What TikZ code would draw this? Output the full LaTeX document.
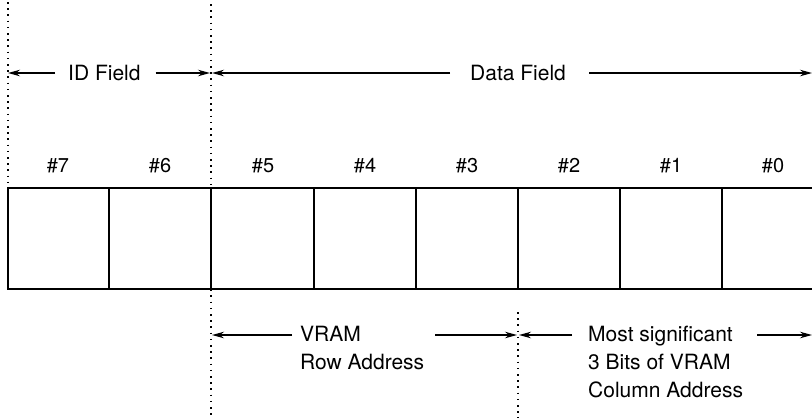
\documentclass[tikz,border=0pt]{standalone}
\usepackage{fontspec}
\setmainfont{TeX Gyre Heros}
\usetikzlibrary{arrows.meta}
\begin{document}
\begin{tikzpicture}[x=1pt,y=-1pt,
  lbl/.style={font=\fontsize{21}{28}\selectfont, inner sep=0pt, align=left},
  num/.style={font=\fontsize{20}{22}\selectfont, inner sep=0pt},
  dim/.style={line width=1.3pt, -{Stealth[length=12pt,width=6.5pt]}},
  guide/.style={line width=1.6pt, dash pattern=on 1.6pt off 4.6pt},
  cell/.style={line width=1.3pt}]
\useasboundingbox (0,0) rectangle (812,418);
% guide lines
\coordinate (g0t) at (8,2);   \coordinate (g0b) at (8,186);
\coordinate (g1t) at (211,4); \coordinate (g1b) at (211,418);
\coordinate (g2t) at (518,312); \coordinate (g2b) at (518,418);
\draw[guide] (g0t) -- (g0b);
\draw[guide] (g1t) -- (g1b);
\draw[guide] (g2t) -- (g2b);
% register cells
\draw[cell] (812,188) -- (8,188) -- (8,289) -- (812,289);
\foreach \i/\x in {6/109,5/211,4/314,3/416,2/518,1/620,0/722}{
  \draw[cell] (\x,188) -- (\x,289);
}
\foreach \n/\x in {7/58,6/160,5/263,4/365,3/467,2/569,1/671,0/773}{
  \node[num] (b\n) at (\x,166) {\#\n};
}
% top dimension lines
\node[lbl, anchor=west] (id) at (68,73) {ID Field};
\coordinate (idL) at (8,73); \coordinate (idR) at (210,73);
\draw[dim] ([xshift=-13pt]id.west) -- (idL);
\draw[dim] ([xshift=15pt]id.east) -- (idR);
\node[lbl, anchor=west] (data) at (470,73) {Data Field};
\coordinate (dL) at (212,73); \coordinate (dR) at (812,73);
\draw[dim] ([xshift=-20pt]data.west) -- (dL);
\draw[dim] ([xshift=23pt]data.east) -- (dR);
% bottom dimension lines
\node[lbl, anchor=north west] (row) at (300,326) {VRAM\\Row Address};
\coordinate (rL) at (212,335); \coordinate (rR) at (517,335);
\coordinate (rA) at (292,335); \coordinate (rB) at (435,335);
\draw[dim] (rA) -- (rL);
\draw[dim] (rB) -- (rR);
\node[lbl, anchor=north west] (col) at (588,326) {Most significant\\3 Bits of VRAM\\Column Address};
\coordinate (cL) at (519,335); \coordinate (cR) at (812,335);
\coordinate (cA) at (572,335); \coordinate (cB) at (757,335);
\draw[dim] (cA) -- (cL);
\draw[dim] (cB) -- (cR);
\end{tikzpicture}
\end{document}
